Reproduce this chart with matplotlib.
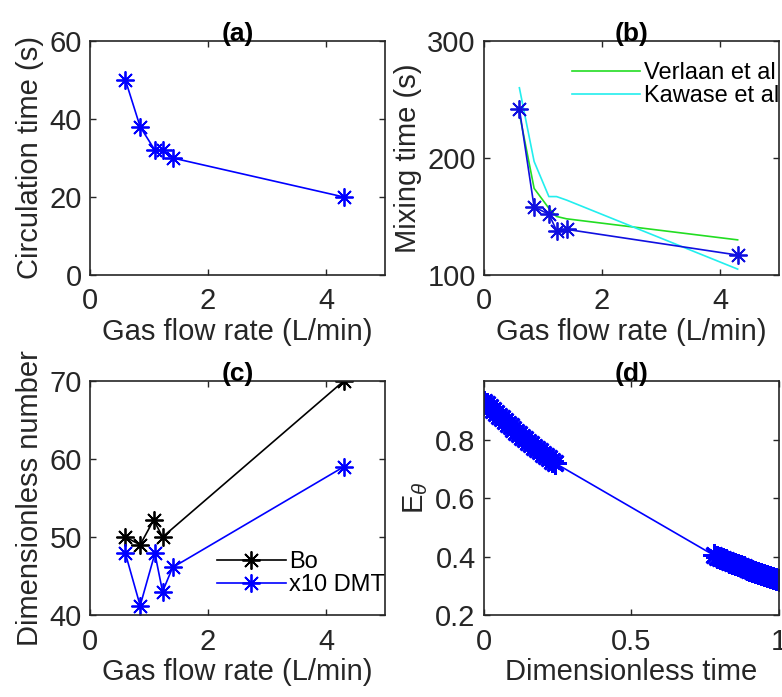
import matplotlib
matplotlib.use("Agg")
import matplotlib.pyplot as plt

plt.rcParams['font.family'] = ['Liberation Sans', 'DejaVu Sans']
plt.rcParams['mathtext.fontset'] = 'custom'
plt.rcParams['mathtext.rm'] = 'Liberation Sans'
plt.rcParams['mathtext.it'] = 'Liberation Sans:italic'

TXT = '#262626'

# ---- data ----
gas_flow = [0.6, 0.85, 1.1, 1.23, 1.4, 4.3]
circulation_time = [50, 38, 32, 32, 30, 20]
mixing_time = [242, 158, 152, 138, 139, 117]
verlaan = [238, 174, 157, 150, 148, 130]
kawase = [260, 197, 167, 167, 164, 105]
bo_flow = [0.6, 0.85, 1.08, 1.23, 4.3]
bo = [50, 49, 52.2, 50, 70]
dmt = [47.9, 41.2, 47.9, 43, 46.1, 59]

theta = [0.00, 0.01, 0.02, 0.03, 0.04, 0.05, 0.06, 0.07, 0.08, 0.09, 0.10,
         0.11, 0.12, 0.13, 0.14, 0.15, 0.16, 0.17, 0.18, 0.19, 0.20, 0.21,
         0.22, 0.23, 0.24,
         0.78, 0.79, 0.80, 0.81, 0.82, 0.83, 0.84, 0.85, 0.86, 0.87, 0.88,
         0.89, 0.90, 0.91, 0.92, 0.93, 0.94, 0.95, 0.96, 0.97, 0.98, 0.99, 1.00]
e_theta = [0.930, 0.920, 0.910, 0.901, 0.891, 0.882, 0.872, 0.863, 0.854,
           0.845, 0.836, 0.827, 0.818, 0.810, 0.801, 0.793, 0.784, 0.776,
           0.768, 0.760, 0.752, 0.744, 0.736, 0.728, 0.720,
           0.404, 0.400, 0.395, 0.391, 0.387, 0.383, 0.379, 0.375, 0.371,
           0.367, 0.363, 0.359, 0.355, 0.352, 0.348, 0.344, 0.341, 0.337,
           0.334, 0.330, 0.327, 0.323, 0.320]

FS = 21
TFS = 19
LFS = 17
AST = (8, 2, 0)   # MATLAB-like asterisk marker

fig = plt.figure(figsize=(7.82, 6.97), dpi=100)
W, H = 0.3772, 0.3357
axa = fig.add_axes([0.1151, 0.6055, W, H])
axb = fig.add_axes([0.6189, 0.6055, W, H])
axc = fig.add_axes([0.1151, 0.1176, W, H])
axd = fig.add_axes([0.6189, 0.1176, W, H])


def style(ax):
    for s in ax.spines.values():
        s.set_color(TXT)
        s.set_linewidth(1.2)
    ax.tick_params(direction='in', top=True, right=True, length=4,
                   labelsize=FS, colors=TXT, width=1)
    ax.tick_params(axis='x', pad=9)
    ax.tick_params(axis='y', pad=6)


BLUE = '#0000ff'
MK = dict(marker=AST, ms=13, mew=1.3, lw=1.2)

# (a)
axa.plot(gas_flow, circulation_time, color=BLUE, **MK)
axa.set_xlim(0, 5)
axa.set_ylim(0, 60)
axa.set_xticks([0, 2, 4])
axa.set_yticks([0, 20, 40, 60])
axa.set_xlabel('Gas flow rate (L/min)', fontsize=FS, color=TXT, labelpad=2)
axa.set_ylabel('Circulation time (s)', fontsize=FS, color=TXT)
axa.set_title('(a)', fontsize=TFS, fontweight='bold', color='black', pad=0)
style(axa)

# (b)
axb.plot(gas_flow, verlaan, color='#22dd22', lw=1.2, label='Verlaan et al')
axb.plot(gas_flow, kawase, color='#22eeee', lw=1.2, label='Kawase et al')
axb.plot(gas_flow, mixing_time, color='#1010e0', **MK)
axb.set_xlim(0, 5)
axb.set_ylim(100, 300)
axb.set_xticks([0, 2, 4])
axb.set_yticks([100, 200, 300])
axb.set_xlabel('Gas flow rate (L/min)', fontsize=FS, color=TXT, labelpad=2)
axb.set_ylabel('Mixing time (s)', fontsize=FS, color=TXT)
axb.set_title('(b)', fontsize=TFS, fontweight='bold', color='black', pad=0)
style(axb)
axb.legend(loc='upper right', frameon=False, fontsize=LFS, handlelength=2.9,
           handletextpad=0.15, borderaxespad=0.0, borderpad=0.0,
           labelspacing=0.05, bbox_to_anchor=(1.0, 0.91))

# (c)
axc.plot(bo_flow, bo, color='black', label='Bo', **MK)
axc.plot(gas_flow, dmt, color=BLUE, label='x10 DMT', **MK)
axc.set_xlim(0, 5)
axc.set_ylim(40, 70)
axc.set_xticks([0, 2, 4])
axc.set_yticks([40, 50, 60, 70])
axc.set_xlabel('Gas flow rate (L/min)', fontsize=FS, color=TXT, labelpad=2)
axc.set_ylabel('Dimensionless number', fontsize=FS, color=TXT)
axc.set_title('(c)', fontsize=TFS, fontweight='bold', color='black', pad=0)
style(axc)
axc.legend(loc='lower right', frameon=False, fontsize=LFS, handlelength=2.9,
           handletextpad=0.15, borderaxespad=0.0, borderpad=0.0,
           labelspacing=0.05, bbox_to_anchor=(1.0, 0.08))

# (d)
axd.plot(theta, e_theta, color=BLUE, marker=AST, ms=16, mew=2.0, lw=1.2)
axd.set_xlim(0, 1)
axd.set_ylim(0.2, 1.0)
axd.set_xticks([0, 0.5, 1])
axd.set_xticklabels(['0', '0.5', '1'])
axd.set_yticks([0.2, 0.4, 0.6, 0.8])
axd.set_xlabel('Dimensionless time', fontsize=FS, color=TXT, labelpad=2)
axd.set_ylabel(r'E$_\theta$', fontsize=FS, color=TXT)
axd.set_title('(d)', fontsize=TFS, fontweight='bold', color='black', pad=0)
style(axd)

fig.savefig('out.png', dpi=100)
